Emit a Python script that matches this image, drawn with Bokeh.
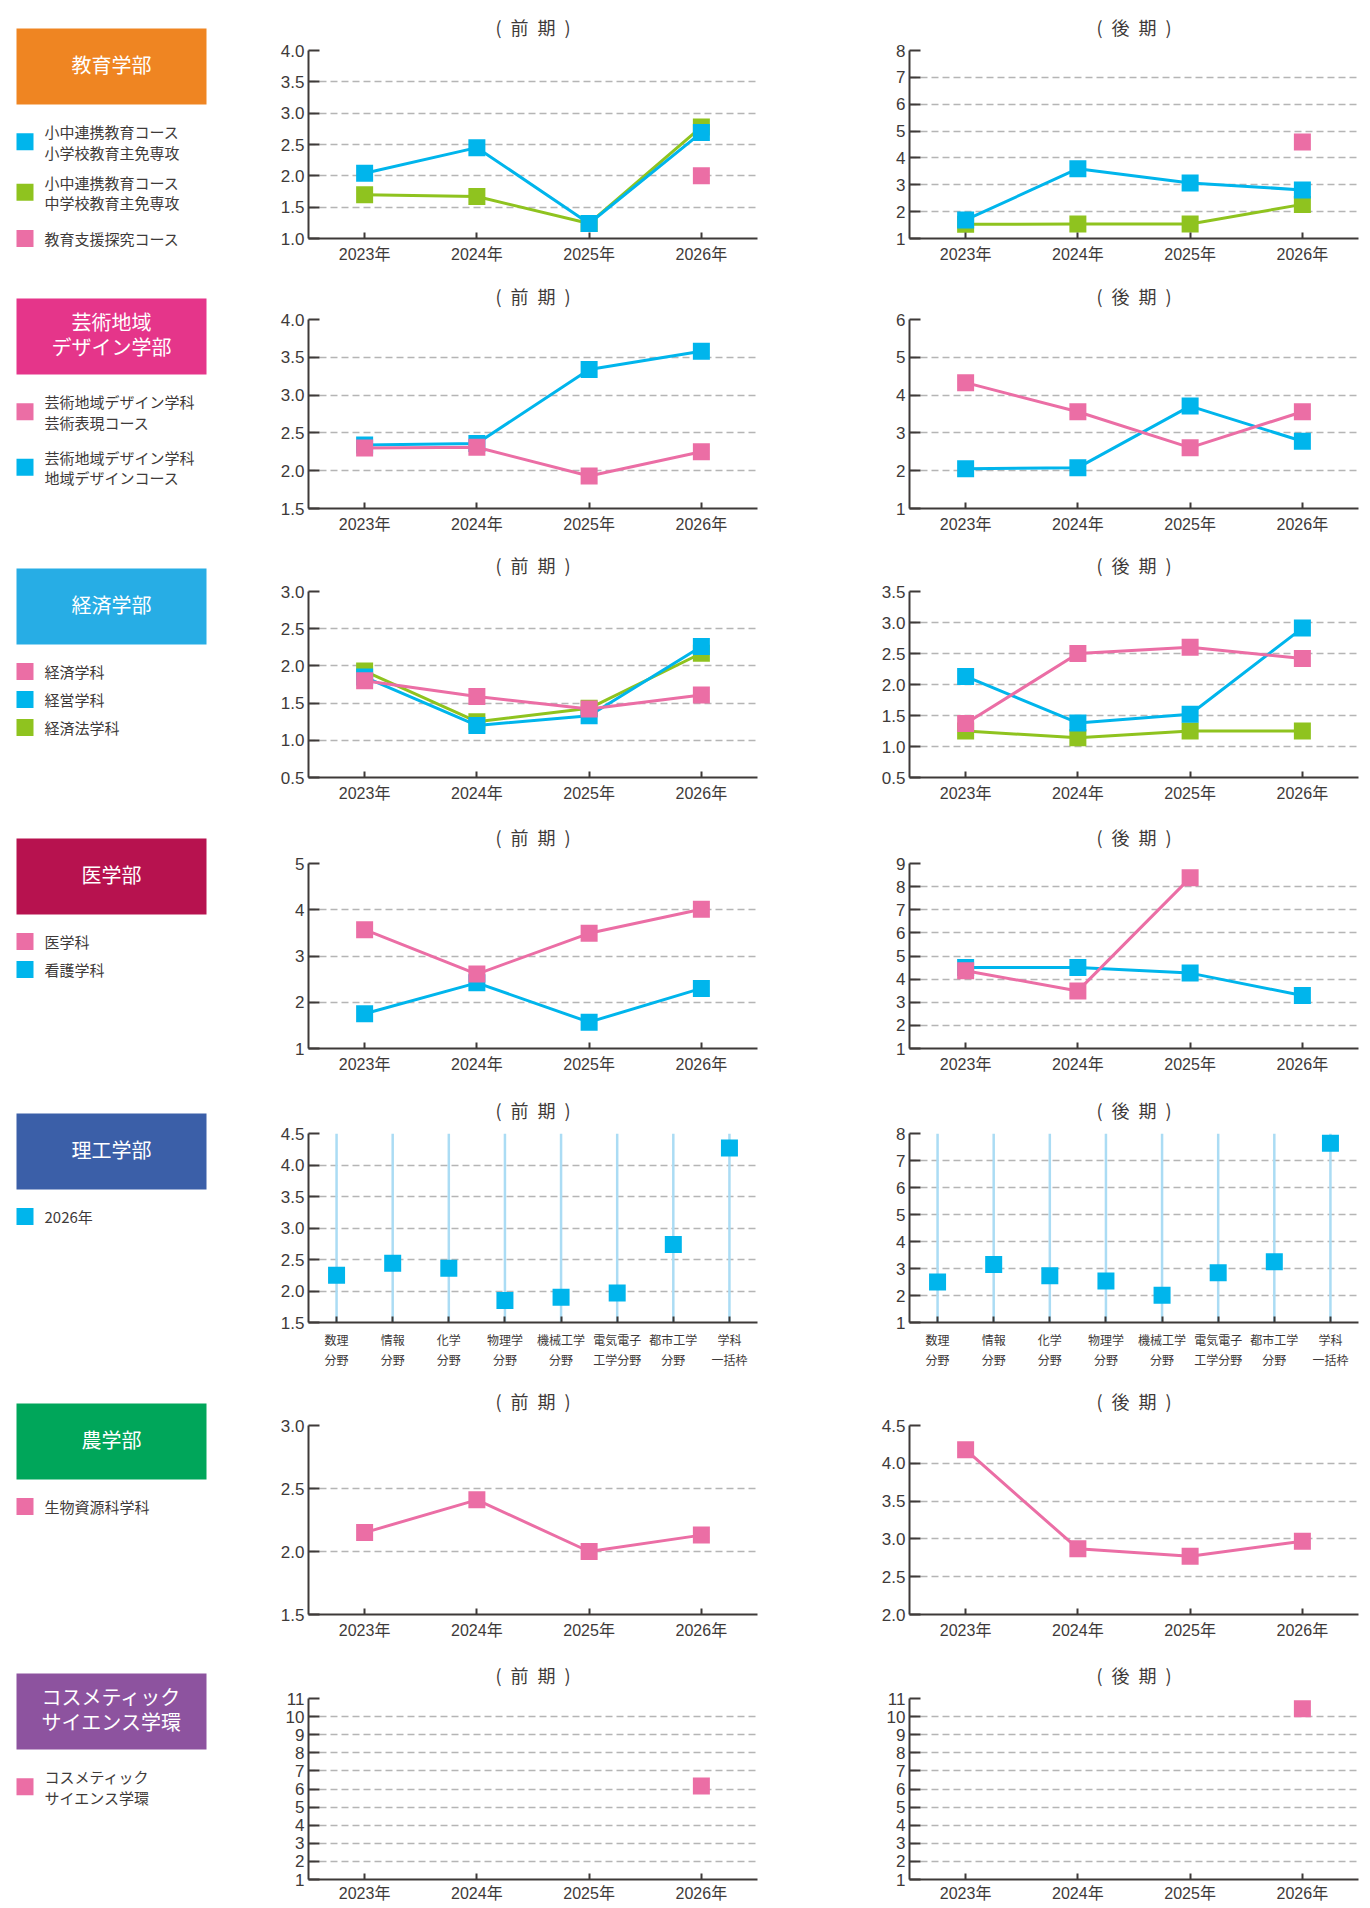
import math
from bokeh.plotting import figure
from bokeh.layouts import row, column
from bokeh.models import Range1d, FactorRange, FixedTicker, PrintfTickFormatter
from bokeh.core.properties import value
from bokeh.embed import file_html
from bokeh.resources import INLINE

NaN = float("nan")
FONT = "Noto Sans CJK JP"
NUMFONT = "'Liberation Sans', 'Noto Sans CJK JP'"
TXT = "#3e3a39"
BLUE = "#00b5ec"
GREEN = "#8fc31f"
PINK = "#eb6ea5"
STEM = "#abdcf4"

# ---------------- data ----------------
years = ["2023年", "2024年", "2025年", "2026年"]
fields = ["数理\n分野", "情報\n分野", "化学\n分野", "物理学\n分野",
          "機械工学\n分野", "電気電子\n工学分野", "都市工学\n分野", "学科\n一括枠"]

# 教育学部
edu_elem_front = [2.04, 2.45, 1.24, 2.69]
edu_elem_back = [1.69, 3.60, 3.07, 2.81]
edu_jr_front = [1.70, 1.67, 1.24, 2.78]
edu_jr_back = [1.53, 1.54, 1.54, 2.27]
edu_sup_front = [NaN, NaN, NaN, 2.00]
edu_sup_back = [NaN, NaN, NaN, 4.59]

# 芸術地域デザイン学部
art_expr_front = [2.30, 2.31, 1.93, 2.25]
art_expr_back = [4.33, 3.56, 2.61, 3.56]
art_reg_front = [2.34, 2.36, 3.34, 3.58]
art_reg_back = [2.05, 2.08, 3.71, 2.78]

# 経済学部
eco_eco_front = [1.80, 1.59, 1.42, 1.61]
eco_eco_back = [1.37, 2.50, 2.60, 2.42]
eco_mgt_front = [1.85, 1.20, 1.33, 2.26]
eco_mgt_back = [2.13, 1.38, 1.52, 2.91]
eco_law_front = [1.93, 1.25, 1.43, 2.17]
eco_law_back = [1.25, 1.14, 1.25, 1.25]

# 医学部
med_med_front = [3.57, 2.61, 3.49, 4.01]
med_med_back = [4.36, 3.49, 8.38, NaN]
med_nur_front = [1.75, 2.42, 1.57, 2.30]
med_nur_back = [4.50, 4.50, 4.26, 3.29]

# 理工学部 (2026年)
sci_front = [2.25, 2.44, 2.36, 1.85, 1.90, 1.97, 2.74, 4.27]
sci_back = [2.50, 3.15, 2.73, 2.54, 2.01, 2.84, 3.25, 7.64]

# 農学部
agr_front = [2.15, 2.41, 2.00, 2.13]
agr_back = [4.18, 2.87, 2.77, 2.97]

# コスメティックサイエンス学環
cos_front = [NaN, NaN, NaN, 6.17]
cos_back = [NaN, NaN, NaN, 10.44]

# ---------------- configuration ----------------
depts = [
    dict(name=["教育学部"], color="#ef8522",
         items=[(["小中連携教育コース", "小学校教育主免専攻"], BLUE, edu_elem_front, edu_elem_back),
                (["小中連携教育コース", "中学校教育主免専攻"], GREEN, edu_jr_front, edu_jr_back),
                (["教育支援探究コース"], PINK, edu_sup_front, edu_sup_back)],
         gaps=[30, 36], front=(1.0, 4.0, 0.5), back=(1, 8, 1), cats=years),
    dict(name=["芸術地域", "デザイン学部"], color="#e5358a",
         items=[(["芸術地域デザイン学科", "芸術表現コース"], PINK, art_expr_front, art_expr_back),
                (["芸術地域デザイン学科", "地域デザインコース"], BLUE, art_reg_front, art_reg_back)],
         gaps=[35], front=(1.5, 4.0, 0.5), back=(1, 6, 1), cats=years),
    dict(name=["経済学部"], color="#27ade5",
         items=[(["経済学科"], PINK, eco_eco_front, eco_eco_back),
                (["経営学科"], BLUE, eco_mgt_front, eco_mgt_back),
                (["経済法学科"], GREEN, eco_law_front, eco_law_back)],
         gaps=[28, 28], front=(0.5, 3.0, 0.5), back=(0.5, 3.5, 0.5), cats=years),
    dict(name=["医学部"], color="#b7124f",
         items=[(["医学科"], PINK, med_med_front, med_med_back),
                (["看護学科"], BLUE, med_nur_front, med_nur_back)],
         gaps=[28], front=(1, 5, 1), back=(1, 9, 1), cats=years),
    dict(name=["理工学部"], color="#3b5fa8",
         items=[(["2026年"], BLUE, sci_front, sci_back)],
         gaps=[], front=(1.5, 4.5, 0.5), back=(1, 8, 1), cats=fields, stems=True),
    dict(name=["農学部"], color="#00a65a",
         items=[(["生物資源科学科"], PINK, agr_front, agr_back)],
         gaps=[], front=(1.5, 3.0, 0.5), back=(2.0, 4.5, 0.5), cats=years),
    dict(name=["コスメティック", "サイエンス学環"], color="#8d539f",
         items=[(["コスメティック", "サイエンス学環"], PINK, cos_front, cos_back)],
         gaps=[], front=(1, 11, 1), back=(1, 11, 1), cats=years),
]

row_heights = [265, 271, 272, 271, 292, 277, 256]
top_borders = [49, 54, 54, 54, 54, 54, 50]
standoffs = [22, 21, 27, 27, 22, 23, 21]
frame_heights = [189, 189, 187, 186, 189, 189, 182]
box_tops = [28, 33, 32, 30, 34, 32, 25]

LEG_W = 268
L_W, L_BL, L_BR = 509, 40, 20
R_W, R_BL, R_BR = 585, 132, 4
DRAW_ORDER = {GREEN: 0, BLUE: 1, PINK: 2}


def legend_fig(d, height, box_top):
    p = figure(x_range=Range1d(0, LEG_W), y_range=Range1d(height, 0),
               width=LEG_W, height=height, output_backend="svg", toolbar_location=None,
               min_border=0, x_axis_location=None, y_axis_location=None,
               outline_line_color=None)
    p.grid.visible = False
    cx = 16 + 95
    cy = box_top + 38
    p.rect(x=[cx], y=[cy], width=[190], height=[76], fill_color=d["color"], line_color=None)
    n = len(d["name"])
    ys = [cy - 2.5 + (i - (n - 1) / 2) * 25.5 for i in range(n)]
    p.text(x=[cx] * n, y=ys, text=d["name"], text_align="center", text_baseline="middle",
           text_color="white", text_font=value(FONT), text_font_size="20px")
    cursor = box_top + 103
    for j, (lines, c, _, _) in enumerate(d["items"]):
        if j > 0:
            cursor += d["gaps"][j - 1]
        ly = [cursor + k * 20.5 for k in range(len(lines))]
        sq = sum(ly) / len(ly)
        p.rect(x=[24.5], y=[sq], width=[17], height=[17], fill_color=c, line_color=None)
        p.text(x=[44] * len(lines), y=ly, text=lines, text_align="left", text_baseline="middle",
               text_color=TXT, text_font=value(FONT), text_font_size="15px")
        cursor = ly[-1]
    return p


def chart(d, which, title, width, bl, br, height, bt, frame_h, standoff):
    lo, hi, step = d[which]
    cats = d["cats"]
    stems = d.get("stems", False)
    bb = height - bt - frame_h
    p = figure(x_range=FactorRange(factors=cats, range_padding=0), y_range=Range1d(lo, hi),
               width=width, height=height, output_backend="svg", toolbar_location=None,
               min_border_left=bl, min_border_right=br, min_border_top=bt, min_border_bottom=bb,
               outline_line_color=None)
    p.title.text = title
    p.title.align = "center"
    p.title.text_font = FONT
    p.title.text_font_size = "18px"
    p.title.text_font_style = "normal"
    p.title.text_color = TXT
    p.title.standoff = standoff

    n = int(round((hi - lo) / step))
    ticks = [round(lo + i * step, 2) for i in range(n + 1)]
    tk = FixedTicker(ticks=ticks)
    p.yaxis.ticker = tk
    p.ygrid.ticker = tk
    p.yaxis.formatter = PrintfTickFormatter(format="%.1f" if step < 1 else "%d")
    p.xgrid.grid_line_color = None
    p.ygrid.grid_line_color = "#b5b5b5"
    p.ygrid.grid_line_dash = "7 4"
    p.ygrid.grid_line_width = 1.4

    for ax in (p.xaxis, p.yaxis):
        ax.axis_line_color = TXT
        ax.axis_line_width = 2
        ax.major_tick_line_color = TXT
        ax.major_tick_line_width = 2
        ax.minor_tick_line_color = None
        ax.major_label_text_color = TXT
    p.yaxis.major_label_text_font = NUMFONT
    p.yaxis.major_tick_in = 11
    p.yaxis.major_tick_out = 0
    p.yaxis.major_label_text_font_size = "17px"
    p.yaxis.major_label_standoff = 4
    p.xaxis.major_tick_in = 6
    p.xaxis.major_tick_out = 0
    if stems:
        p.xaxis.major_label_text_font = FONT
        p.xaxis.major_label_text_font_size = "12px"
        p.xaxis.major_label_standoff = 8
    else:
        p.xaxis.major_label_text_font = NUMFONT
        p.xaxis.major_label_text_font_size = "16px"
        p.xaxis.major_label_standoff = 5 if bb < 27 else 7

    if stems:
        p.segment(x0=cats, y0=[lo] * len(cats), x1=cats, y1=[hi] * len(cats),
                  line_color=STEM, line_width=2.5)

    items = sorted(d["items"], key=lambda it: DRAW_ORDER[it[1]])
    for lines, c, fr, bk in items:
        vals = fr if which == "front" else bk
        if not stems:
            p.line(x=cats, y=vals, line_color=c, line_width=3)
        p.scatter(x=cats, y=vals, marker="square", size=17, fill_color=c, line_color=None)
    return p


TITLE_F = "(\u2002前\u2002期\u2002)"
TITLE_B = "(\u2002後\u2002期\u2002)"

legs = []
chart_rows = []
for i, d in enumerate(depts):
    h = row_heights[i]
    legs.append(legend_fig(d, h, box_tops[i]))
    left = chart(d, "front", TITLE_F, L_W, L_BL, L_BR, h, top_borders[i], frame_heights[i], standoffs[i])
    right = chart(d, "back", TITLE_B, R_W, R_BL, R_BR, h, top_borders[i], frame_heights[i], standoffs[i])
    chart_rows.append(row(left, right))

layout = row(column(*legs), column(*chart_rows))
open("out.html", "w").write(file_html(layout, INLINE))
